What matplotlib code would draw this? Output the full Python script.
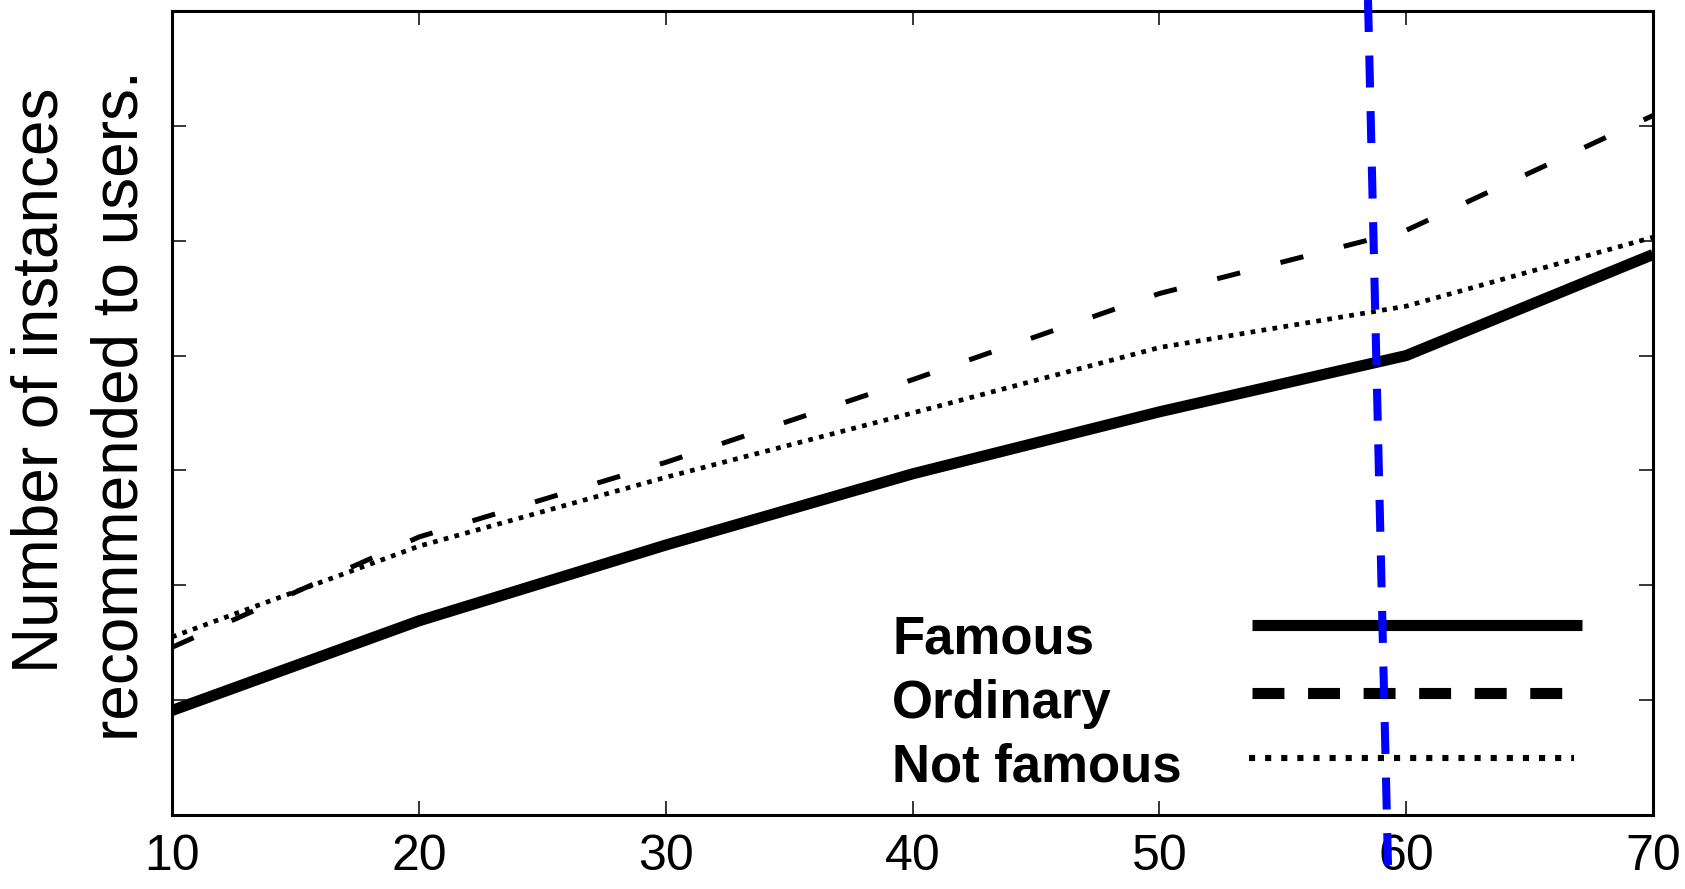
import matplotlib
matplotlib.use("Agg")
import matplotlib.pyplot as plt
from matplotlib.lines import Line2D

plt.rcParams['font.family'] = ['Liberation Sans', 'DejaVu Sans']
plt.rcParams['lines.scale_dashes'] = False

# data (y axis has no visible labels, units = tick steps)
k_values = [10, 20, 30, 40, 50, 60, 70]
famous = [0.91, 1.69, 2.35, 2.97, 3.51, 4.00, 4.88]
ordinary = [1.46, 2.42, 3.07, 3.79, 4.54, 5.09, 6.09]
not_famous = [1.55, 2.34, 2.94, 3.50, 4.07, 4.43, 5.03]
labels = ['Famous', 'Ordinary', 'Not famous']
y_ticks = [0, 1, 2, 3, 4, 5, 6, 7]

W, H = 1685, 889

def fx(px):
    return px / W

def fy(py):
    return 1 - py / H

fig = plt.figure(figsize=(W / 100, H / 100), dpi=100)
ax = fig.add_axes([fx(172), fy(815), (1653 - 172) / W, (815 - 11) / H])

ax.plot(k_values, famous, color='black', lw=8, solid_capstyle='butt')
ax.plot(k_values, ordinary, color='black', lw=3.6, dashes=(17, 30))
ax.plot(k_values, not_famous, color='black', lw=3.4, dashes=(3.4, 4.6))

ax.set_xlim(10, 70)
ax.set_ylim(0, 7)
ax.set_xticks(k_values)
ax.set_yticks(y_ticks)
ax.set_yticklabels([])
ax.tick_params(direction='in', length=10, width=1.1, top=True, right=True,
               labelsize=36, pad=14)
for s in ax.spines.values():
    s.set_linewidth(2.2)

# y label, two lines placed separately
fig.text(fx(41), fy(380), 'Number of instances', rotation=90,
         ha='center', va='center', fontsize=46)
fig.text(fx(121), fy(406), 'recommended to users.', rotation=90,
         ha='center', va='center', fontsize=46)

# legend: labels on the left, line samples on the right
leg_text_x = 892
leg_baselines = [653, 718, 781]
leg_samples = [
    dict(x=(1252, 1582), y=625, lw=8, dashes=None),
    dict(x=(1252, 1569), y=693, lw=8, dashes=(23, 17)),
    dict(x=(1249, 1574), y=758, lw=4.4, dashes=(4.4, 7.2)),
]
for lab, base, smp in zip(labels, leg_baselines, leg_samples):
    fig.text(fx(leg_text_x), fy(base), lab, ha='left', va='baseline',
             fontsize=38, fontweight='bold')
    ln = Line2D([fx(smp['x'][0]), fx(smp['x'][1])], [fy(smp['y'])] * 2,
                transform=fig.transFigure, color='black', lw=smp['lw'],
                solid_capstyle='butt')
    if smp['dashes']:
        ln.set_dashes(smp['dashes'])
    fig.add_artist(ln)

# slanted blue dashed marker line, drawn across the whole figure height
blue_top = (1368, 0)
blue_bottom = (1388, 865)
fig.add_artist(Line2D([fx(blue_top[0]), fx(blue_bottom[0])],
                      [fy(blue_top[1]), fy(blue_bottom[1])],
                      transform=fig.transFigure, color='#0000ff', lw=5.8,
                      dashes=(23, 17)))

fig.savefig('out.png', dpi=100)
